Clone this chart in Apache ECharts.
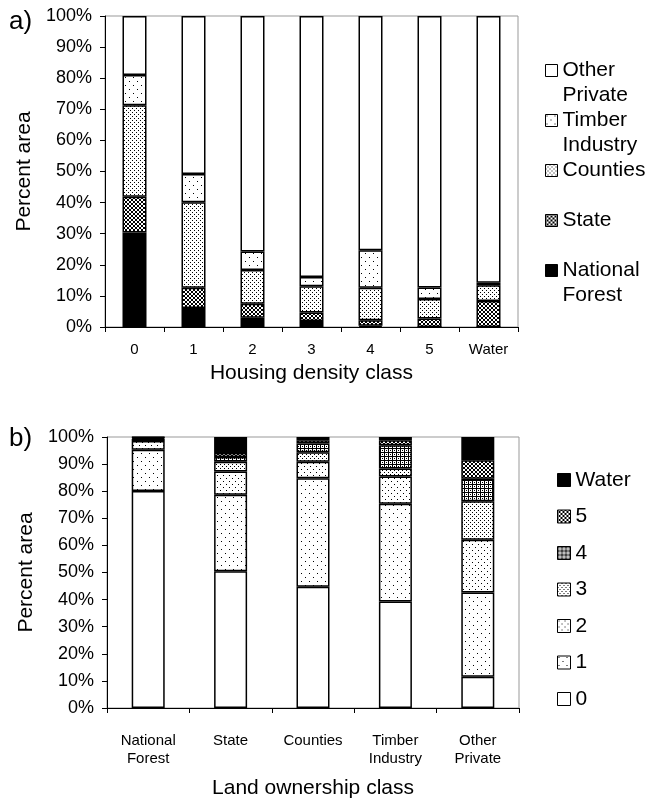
<!DOCTYPE html>
<html>
<head>
<meta charset="utf-8">
<script src="https://cdn.jsdelivr.net/npm/echarts@6/dist/echarts.min.js"></script>
<style>html,body{margin:0;padding:0;background:#fff}#c{width:657px;height:800px}</style>
</head>
<body>
<div id="c"></div>
<script>
// ---- Data (a) housing density class ----
const densityCats = ['0', '1', '2', '3', '4', '5', 'Water'];
const nationalForest = [30.4, 6.1, 3.0, 1.9, 0.4, 0, 0];
const stateOwn = [11.5, 6.5, 4.5, 2.8, 1.8, 2.7, 8.4];
const counties = [29.4, 27.5, 10.8, 8.4, 10.4, 6.3, 5.0];
const timberIndustry = [9.7, 9.1, 6.0, 3.0, 12.1, 3.7, 0.8];
const otherPrivate = [19.0, 50.8, 75.7, 83.9, 75.3, 87.3, 85.8];

// ---- Data (b) land ownership class ----
const ownershipCats = ['National\nForest', 'State', 'Counties', 'Timber\nIndustry', 'Other\nPrivate'];
const class0 = [80.1, 50.5, 44.7, 39.3, 11.5];
const class1 = [15.2, 28.2, 40.1, 36.1, 31.1];
const class2 = [3.2, 8.6, 6.1, 10.0, 19.5];
const class3 = [0.9, 3.6, 3.5, 3.0, 14.2];
const class4 = [0.3, 1.7, 3.2, 8.6, 8.3];
const class5 = [0.2, 1.5, 1.2, 1.8, 6.8];
const classWater = [0.1, 5.9, 1.2, 1.2, 8.6];

// ---- patterns ----
function pat(w, h, pts) {
  const c = document.createElement('canvas');
  c.width = w; c.height = h;
  const g = c.getContext('2d');
  g.fillStyle = '#fff'; g.fillRect(0, 0, w, h);
  g.fillStyle = '#000';
  pts.forEach(p => g.fillRect(p[0], p[1], 1, 1));
  return { image: c, repeat: 'repeat' };
}
const WHITE = '#fff';
const BLACK = '#000';
const sparseDots = () => pat(8, 8, [[1, 1], [5, 5]]);
const medDots = () => pat(6, 6, [[1, 1], [4, 4]]);
const denseDots = () => pat(4, 4, [[0, 0], [2, 2]]);
const gridPat = () => pat(4, 4, [[0, 0], [1, 0], [2, 0], [3, 0], [0, 1], [0, 2], [0, 3], [2, 2]]);
const crossPat = () => pat(4, 4, [[0, 0], [1, 1], [2, 2], [3, 3], [3, 0], [2, 1], [1, 2], [0, 3]]);

const FONT = 'Liberation Sans, Arial, Helvetica, sans-serif';

function barSeries(name, data, color, stack, xi, bw) {
  return {
    type: 'bar', name, data, stack, xAxisIndex: xi, yAxisIndex: xi,
    barWidth: bw,
    itemStyle: { color, borderColor: '#000', borderWidth: 1.5 },
    emphasis: { disabled: true },
    animation: false
  };
}

const series = [
  barSeries('National Forest', nationalForest, BLACK, 'a', 0, 24),
  barSeries('State', stateOwn, crossPat(), 'a', 0, 24),
  barSeries('Counties', counties, denseDots(), 'a', 0, 24),
  barSeries('Timber Industry', timberIndustry, sparseDots(), 'a', 0, 24),
  barSeries('Other Private', otherPrivate, WHITE, 'a', 0, 24),
  barSeries('0', class0, WHITE, 'b', 1, 33),
  barSeries('1', class1, sparseDots(), 'b', 1, 33),
  barSeries('2', class2, medDots(), 'b', 1, 33),
  barSeries('3', class3, denseDots(), 'b', 1, 33),
  barSeries('4', class4, gridPat(), 'b', 1, 33),
  barSeries('5', class5, crossPat(), 'b', 1, 33),
  barSeries('Water', classWater, BLACK, 'b', 1, 33)
];

function yAx(gi) {
  return {
    type: 'value', gridIndex: gi, min: 0, max: 100, interval: 10,
    name: 'Percent area', nameLocation: 'middle', nameGap: 62, nameRotate: 90,
    nameTextStyle: { fontSize: 21, color: '#000', fontFamily: FONT },
    axisLine: { show: true, lineStyle: { color: '#000', width: 1 } },
    axisTick: { show: true, length: 5, lineStyle: { color: '#000' } },
    axisLabel: { formatter: '{value}%', fontSize: 18, color: '#000', fontFamily: FONT, margin: 13 },
    splitLine: { show: false }
  };
}
function xAx(gi, cats, name, gap, margin) {
  return {
    type: 'category', gridIndex: gi, data: cats,
    name, nameLocation: 'middle', nameGap: gap,
    nameTextStyle: { fontSize: 21, color: '#000', fontFamily: FONT },
    axisLine: { show: true, lineStyle: { color: '#000', width: 1 } },
    axisTick: { show: true, length: 5, alignWithLabel: false, lineStyle: { color: '#000' } },
    axisLabel: { fontSize: 15, color: '#000', fontFamily: FONT, margin, lineHeight: 18, interval: 0 },
    splitLine: { show: false }
  };
}

const topLegendText = {
  'Other Private': '{f| }\n{t|Other}\n{t|Private}',
  'Timber Industry': '{f| }\n{t|Timber}\n{t|Industry}',
  'Counties': '{f| }\n{t|Counties}\n{t| }',
  'State': '{f| }\n{t|State}\n{t| }',
  'National Forest': '{f| }\n{t|National}\n{t|Forest}'
};

const chart = echarts.init(document.getElementById('c'), null, { renderer: 'canvas' });
chart.setOption({
  backgroundColor: '#fff',
  animation: false,
  title: [
    { text: 'a)', left: 4, top: 4, textStyle: { fontSize: 26, fontWeight: 'normal', color: '#000', fontFamily: FONT } },
    { text: 'b)', left: 4, top: 421, textStyle: { fontSize: 26, fontWeight: 'normal', color: '#000', fontFamily: FONT } }
  ],
  grid: [
    { left: 105, top: 16, width: 413, height: 311, show: true, borderColor: '#999', borderWidth: 1 },
    { left: 107, top: 437, width: 412, height: 281, show: true, borderColor: '#999', borderWidth: 1 }
  ],
  xAxis: [
    xAx(0, densityCats, 'Housing density class', 36, 14),
    xAx(1, ownershipCats, 'Land ownership class', 70, 24)
  ],
  yAxis: [yAx(0), yAx(1)],
  legend: [
    {
      orient: 'vertical', left: 545, top: 33, padding: 0, itemWidth: 12, itemHeight: 12, itemGap: -25,
      icon: 'rect',
      selectedMode: false,
      itemStyle: { borderColor: '#000', borderWidth: 1 },
      textStyle: {
        fontSize: 21, color: '#000', fontFamily: FONT,
        rich: {
          f: { fontSize: 21, lineHeight: 25, height: 25, fontFamily: FONT },
          t: { fontSize: 21, lineHeight: 25, height: 25, color: '#000', fontFamily: FONT }
        }
      },
      data: ['Other Private', 'Timber Industry', 'Counties', 'State', 'National Forest'],
      formatter: function (n) { return topLegendText[n]; }
    },
    {
      orient: 'vertical', left: 557, top: 468, padding: 0, itemWidth: 13, itemHeight: 13, itemGap: 12.5,
      icon: 'rect',
      selectedMode: false,
      itemStyle: { borderColor: '#000', borderWidth: 1 },
      textStyle: { fontSize: 21, color: '#000', fontFamily: FONT, lineHeight: 24 },
      data: ['Water', '5', '4', '3', '2', '1', '0']
    }
  ],
  series
});
</script>
</body>
</html>
